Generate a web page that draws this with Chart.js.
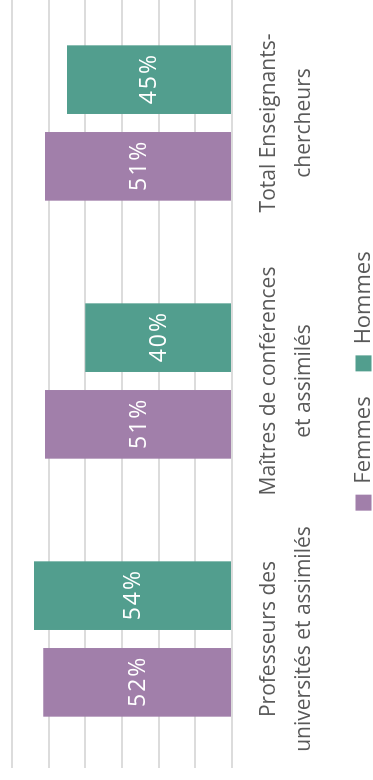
<!DOCTYPE html>
<html>
<head>
<meta charset="utf-8">
<script src="https://cdn.jsdelivr.net/npm/chart.js@4.4.0/dist/chart.umd.min.js"></script>
<style>
html, body { margin: 0; padding: 0; background: #fff; overflow: hidden; width: 373px; height: 780px; }
#wrap { position: absolute; left: 0; top: 0; width: 786px; height: 373px; transform-origin: 0 0; transform: translate(0, 780px) rotate(-90deg); }
</style>
</head>
<body>
<div id="wrap"><canvas id="barChart" width="786" height="373"></canvas></div>
<script>
var categories = [
    ["Professeurs des", "universités et assimilés"],
    ["Maîtres de conférences", "et assimilés"],
    ["Total Enseignants-", "chercheurs"]
];
var femmes = [51.5, 51, 51];
var hommes = [54, 40, 45];
var yTicks = [0, 10, 20, 30, 40, 50, 60];

var textGrey = '#595959';

// labels blancs au milieu des barres
var barLabels = {
    id: 'barLabels',
    afterDatasetsDraw: function(chart) {
        var ctx = chart.ctx;
        ctx.save();
        ctx.fillStyle = '#fff';
        ctx.font = '23px "Open Sans"';
        ctx.letterSpacing = '2px';
        ctx.textAlign = 'center';
        ctx.textBaseline = 'middle';
        chart.data.datasets.forEach(function(ds, i) {
            chart.getDatasetMeta(i).data.forEach(function(bar, j) {
                ctx.fillText(Math.round(ds.data[j]) + '%', bar.x + 1, (bar.y + bar.base) / 2 + 1);
            });
        });
        ctx.restore();
    }
};

var barData = {
    labels: categories,
    datasets: [{
            label: "Femmes",
            backgroundColor: '#a17faa',
            data: femmes
        }, {
            label: "Hommes",
            backgroundColor: '#529e8e',
            data: hommes
        }]
};

var barOptions = {
    responsive: false,
    animation: false,
    layout: { padding: { left: 12, top: 12, right: 0, bottom: -11.5 } },
    datasets: {
        bar: { categoryPercentage: 0.672, barPercentage: 0.792 }
    },
    scales: {
        x: {
            grid: { display: false },
            border: { display: false },
            ticks: {
                color: textGrey,
                padding: 11.3,
                font: { family: '"Open Sans"', size: 21, lineHeight: 1.69 },
                maxRotation: 0
            },
            afterFit: function(axis) {
                axis.height -= 6;
            }
        },
        y: {
            min: yTicks[0],
            max: yTicks[yTicks.length - 1],
            afterBuildTicks: function(axis) {
                axis.ticks = yTicks.map(function(v) { return { value: v }; });
            },
            grid: { color: '#dcdcdc', lineWidth: 2, drawTicks: false },
            border: { display: false },
            ticks: { display: false }
        }
    },
    plugins: {
        tooltip: { enabled: false },
        legend: {
            position: 'bottom',
            labels: {
                color: textGrey,
                boxWidth: 16,
                boxHeight: 16,
                padding: 25,
                font: { family: '"Open Sans"', size: 22 }
            }
        }
    }
};

var ctx2 = document.getElementById("barChart");
var dashboardChart = new Chart(ctx2, {
    type: 'bar',
    data: barData,
    options: barOptions,
    plugins: [barLabels]
});
</script>
</body>
</html>
